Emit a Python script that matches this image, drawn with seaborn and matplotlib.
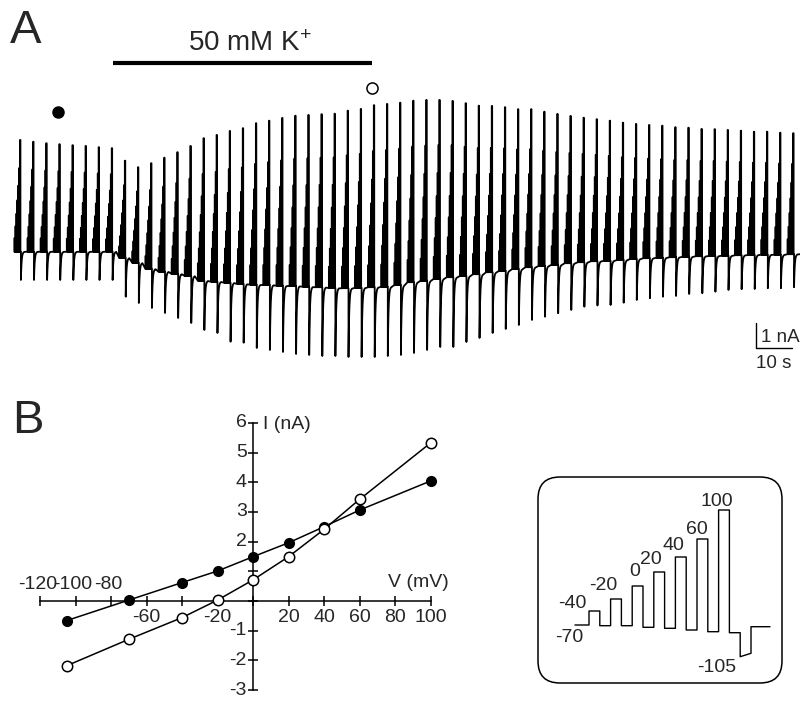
import numpy as np
import matplotlib.pyplot as plt
import seaborn as sns
from matplotlib.patches import FancyBboxPatch
from matplotlib.transforms import IdentityTransform

sns.set_style('white')
plt.rcParams['font.family'] = ['Liberation Sans', 'DejaVu Sans']
plt.rcParams['mathtext.fontset'] = 'custom'
plt.rcParams['mathtext.rm'] = 'Liberation Sans'
plt.rcParams['mathtext.it'] = 'Liberation Sans'

# ---- panel A: one value per test pulse, in nA ----
pulse_interval = 3.64  # s between test pulses
peak_na = [4.47, 4.40, 4.34, 4.30, 4.26, 4.23, 4.18, 4.14, 3.64, 3.38,
           3.54, 3.76, 3.98, 4.23, 4.54, 4.67, 4.83, 4.94, 5.14, 5.24,
           5.35, 5.44, 5.47, 5.50, 5.52, 5.64, 5.71, 5.86, 5.91, 5.96,
           6.04, 6.07, 6.07, 6.03, 5.94, 5.84, 5.83, 5.78, 5.70, 5.70,
           5.60, 5.51, 5.43, 5.36, 5.30, 5.24, 5.16, 5.11, 5.07, 5.04,
           4.98, 4.96, 4.91, 4.90, 4.87, 4.84, 4.80, 4.80, 4.76, 4.74]
hold_na = [0.00, 0.00, 0.00, 0.00, 0.00, 0.00, 0.00, 0.00, -0.25, -0.45,
           -0.69, -0.80, -0.89, -0.97, -1.16, -1.20, -1.24, -1.29, -1.32, -1.33,
           -1.36, -1.37, -1.40, -1.42, -1.45, -1.46, -1.44, -1.42, -1.40, -1.33,
           -1.22, -1.16, -1.08, -1.02, -0.97, -0.90, -0.82, -0.76, -0.69, -0.62,
           -0.57, -0.52, -0.46, -0.42, -0.38, -0.36, -0.33, -0.29, -0.26, -0.24,
           -0.22, -0.20, -0.18, -0.17, -0.16, -0.14, -0.13, -0.12, -0.12, -0.10]
trough_na = [-1.13, -1.13, -1.13, -1.13, -1.13, -1.13, -1.13, -1.13, -1.80, -2.05,
             -2.25, -2.45, -2.65, -2.85, -3.13, -3.25, -3.60, -3.64, -3.85, -3.93,
             -4.01, -4.09, -4.13, -4.17, -4.17, -4.21, -4.21, -4.21, -4.17, -4.13,
             -4.05, -3.93, -3.81, -3.81, -3.61, -3.45, -3.25, -3.09, -2.93, -2.73,
             -2.60, -2.46, -2.33, -2.20, -2.15, -2.13, -2.04, -1.93, -1.86, -1.80,
             -1.77, -1.69, -1.66, -1.60, -1.53, -1.50, -1.49, -1.46, -1.46, -1.42]
k_on, k_off = 25.8, 97.8  # s, 50 mM K+ application

# ---- voltage protocol (inset): response height of each step, arbitrary units ----
hold_mv = -70
step_mv = [-40, -20, 0, 20, 40, 60, 100]
step_height = [14, 26, 39, 53, 68, 86, 115]
step_sag = [0.7, 0.7, 2.3, 3.3, 5.0, 6.7, 7.7]
neg_mv = -105
neg_height = [-31.7, -28.3]

# ---- panel B: I-V relation ----
v_mv = [-105, -70, -40, -20, 0, 20, 40, 60, 100]
i_control = [-0.66, 0.03, 0.62, 1.01, 1.49, 1.96, 2.50, 3.06, 4.04]
i_potassium = [-2.18, -1.29, -0.56, 0.03, 0.71, 1.49, 2.41, 3.42, 5.32]

fig = plt.figure(figsize=(8, 7.01), dpi=100)

# ================= panel A =================
axA = fig.add_axes([0, 1 - 380 / 701, 1, 330 / 701])
rel = np.array(step_height) / step_height[-1]
t_pulse = np.arange(len(peak_na)) * pulse_interval
tt, yy = [-1.4], [hold_na[0]]
for tk, p, h, q in zip(t_pulse, peak_na, hold_na, trough_na):
    a, d = p - h, q - h
    for j, r in enumerate(rel):
        s = tk - 1.56 + 0.26 * j
        tt += [s, s, s + 0.12, s + 0.12]
        yy += [h, h + a * r, h + a * r, h]
    s = tk + 0.25
    dt = np.linspace(0, 1.0, 12)
    tt += [s] + list(s + dt)
    yy += [h] + list(h + d * np.exp(-dt / 0.2))
tt.append(216.7)
yy.append(hold_na[-1])
sns.lineplot(x=tt, y=yy, ax=axA, sort=False, estimator=None, color='black', lw=1.3)

axA.plot([t_pulse[3] - 0.5], [5.6], 'o', ms=8, color='black')
axA.plot([t_pulse[27] - 0.5], [6.54], 'o', ms=8, mfc='white', mec='black', mew=1.1)
axA.plot([k_on, k_off], [7.55, 7.55], color='black', lw=3, solid_capstyle='butt')
# scale bar 1 nA / 10 s
axA.plot([204.4, 204.4, 214.4], [-2.85, -3.85, -3.85], color='black', lw=1.0)
axA.set_xlim(-20 / 3.6, 780 / 3.6)
axA.set_ylim((251.7 - 380) / 25, (251.7 - 50) / 25)
axA.axis('off')

fig.text(10 / 800, 1 - 43 / 701, 'A', fontsize=34, va='baseline')
fig.text(188 / 800, 1 - 51 / 701, r'50 mM K$^{+}$', fontsize=20, va='baseline')
fig.text(761 / 800, 1 - 337 / 701, '1 nA', fontsize=13.5, va='center')
fig.text(756 / 800, 1 - 364 / 701, '10 s', fontsize=13.5, va='center')
fig.text(12 / 800, 1 - 433 / 701, 'B', fontsize=34, va='baseline')

# ================= panel B =================
axB = fig.add_axes([0, 0, 530 / 800, (701 - 405) / 701])
sns.lineplot(x=v_mv, y=i_control, ax=axB, color='black', lw=1.1, marker='o',
             markersize=7, markerfacecolor='black', markeredgecolor='black',
             markeredgewidth=1.0, zorder=3)
sns.lineplot(x=v_mv, y=i_potassium, ax=axB, color='black', lw=1.1, marker='o',
             markersize=7.5, markerfacecolor='white', markeredgecolor='black',
             markeredgewidth=1.1, zorder=4)
axB.set_xlim((0 - 253) / 1.775, (530 - 253) / 1.775)
axB.set_ylim((601 - 701) / 29.7, (601 - 405) / 29.7)
for side in ['top', 'right']:
    axB.spines[side].set_visible(False)
axB.spines['left'].set_position(('data', 0))
axB.spines['bottom'].set_position(('data', 0))
axB.spines['left'].set_bounds(-3, 6)
axB.spines['bottom'].set_bounds(-120, 100)
for side in ['left', 'bottom']:
    axB.spines[side].set_color('black')
    axB.spines[side].set_linewidth(1.1)
axB.set_xticks(range(-120, 101, 20))
axB.set_yticks(range(-3, 7))
axB.set_xticklabels([])
axB.set_yticklabels([])
axB.tick_params(direction='inout', length=7, width=1.1, color='black',
                bottom=True, left=True)
axB.set_xlabel('')
axB.set_ylabel('')

for v in [-120, -100, -80]:
    axB.text(v - 1.5, 0.55, str(v), fontsize=14, ha='center', va='center')
for v in [-60, -20, 20, 40, 60, 80, 100]:
    axB.text(v, -0.57, str(v), fontsize=14, ha='center', va='center')
for i in [6, 5, 4, 3, 2, -1, -2, -3]:
    axB.text(-3.5, i, str(i), fontsize=14, ha='right', va='center')
axB.text(5.6, 5.93, 'I (nA)', fontsize=14, ha='left', va='center')
axB.text(76, 0.62, 'V (mV)', fontsize=14, ha='left', va='center')

# ================= inset: voltage protocol =================
axI = fig.add_axes([538 / 800, 1 - 683 / 701, 244 / 800, 206 / 701])
xs, ys = [-0.13], [0.0]
base = 0.0
for j, (hgt, sag) in enumerate(zip(step_height, step_sag)):
    s = 0.2 * j
    xs += [s, s, s + 0.1, s + 0.1]
    ys += [base, hgt, hgt, -sag]
    base = -sag
xs += [1.4, 1.4, 1.5, 1.5, 1.676]
ys += [base, neg_height[0], neg_height[1], -1.7, -1.7]
sns.lineplot(x=xs, y=ys, ax=axI, sort=False, estimator=None, color='black', lw=1.0)
axI.set_xlim((538 - 589) / 108, (782 - 589) / 108)
axI.set_ylim(-58, 148)
axI.axis('off')

inset_pos = [(0.13, 39), (0.426, 53), (0.574, 66), (0.778, 79), (1.0, 96), (1.185, 124)]
axI.text(-0.185, -12, str(hold_mv), fontsize=14, ha='center', va='center')
axI.text(-0.157, 22, str(step_mv[0]), fontsize=14, ha='center', va='center')
for mv, (x, y) in zip(step_mv[1:], inset_pos):
    axI.text(x, y, str(mv), fontsize=14, ha='center', va='center')
axI.text(1.185, -42, str(neg_mv), fontsize=14, ha='center', va='center')

box = FancyBboxPatch((538, 18), 244, 206, boxstyle='round,pad=0,rounding_size=22',
                     transform=IdentityTransform(), fill=False, ec='black', lw=1.1)
fig.add_artist(box)

fig.savefig('out.png', dpi=100)
